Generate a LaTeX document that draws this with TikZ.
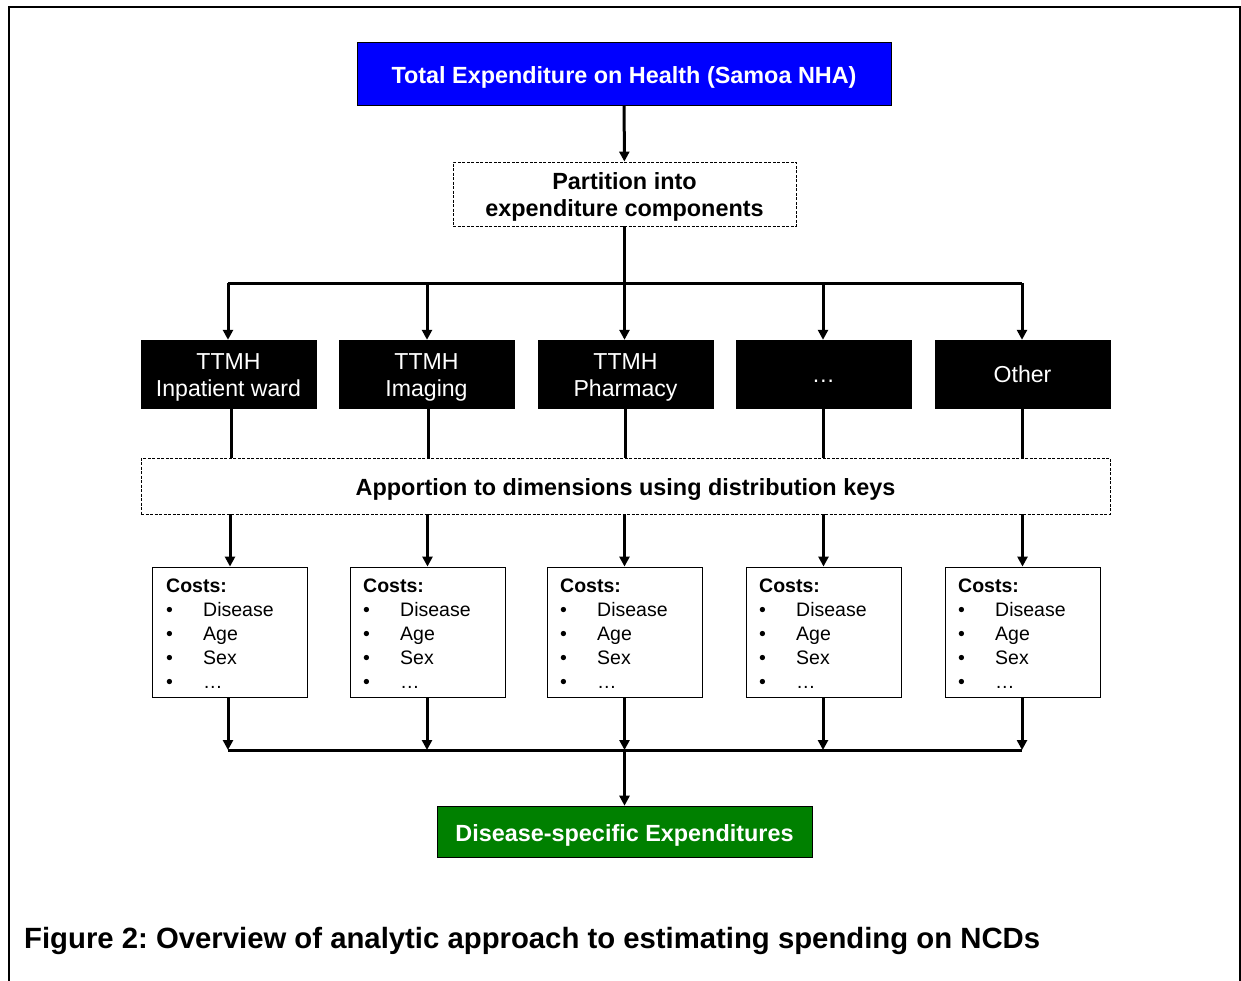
\documentclass[tikz,border=0pt]{standalone}
\usepackage{fontspec}
\setmainfont{Liberation Sans}
\usetikzlibrary{arrows.meta}
\definecolor{nhablue}{RGB}{0,0,255}
\definecolor{nhagreen}{RGB}{0,128,0}
\tikzset{
  conn/.style={line width=3pt, draw=black},
  arr/.style={conn, -{Triangle[length=10pt,width=10pt]}},
  boldtxt/.style={font=\bfseries\fontsize{23.4}{27}\selectfont},
  dashbox/.style={draw=black, line width=0.9pt, dash pattern=on 3pt off 1.5pt, fill=white, inner sep=0pt, align=center, boldtxt},
  blackbox/.style={fill=black, draw=black, text=white, inner sep=0pt, minimum width=175pt, minimum height=68pt, align=center, font=\fontsize{23.1}{27}\selectfont},
  costbox/.style={draw=black, line width=0.9pt, fill=white, inner sep=0pt, minimum width=155pt, minimum height=130pt},
  costtext/.style={anchor=base west, inner sep=0pt, font=\fontsize{19.5}{24}\selectfont},
}
\newcommand{\lowr}[1]{\raisebox{-3.5pt}[\height][\depth]{#1}}
\newcommand{\twol}[2]{\lowr{\begin{tabular}{@{}c@{}}#1\\#2\end{tabular}}}
\newcommand{\costlist}{\begin{tabular}[t]{@{}p{37pt}@{}l@{}}\multicolumn{2}{@{}l@{}}{\bfseries Costs:}\\ •&Disease\\ •&Age\\ •&Sex\\ •&…\end{tabular}}
\begin{document}
\frenchspacing
\begin{tikzpicture}[x=1pt,y=-1pt]
\useasboundingbox (0,0) rectangle (1241,980);
\fill[white] (0,0) rectangle (1241,980);
% frame
\draw[line width=2.2pt] (9,990) -- (9,7) -- (1240,7) -- (1240,990);
% top
\node[fill=nhablue, draw=black, line width=0.6pt, inner sep=0pt, minimum width=534pt, minimum height=63pt, text=white, boldtxt] (total) at (624,73.5) {\lowr{Total Expenditure on Health (Samoa NHA)}};
\node[dashbox, minimum width=343pt, minimum height=64pt] (part) at (624.5,194) {\twol{Partition into}{expenditure components}};
% black boxes
\node[blackbox] (b1) at (228.5,374) {\twol{TTMH}{Inpatient ward}};
\node[blackbox] (b2) at (426.5,374) {\twol{TTMH}{Imaging}};
\node[blackbox] (b3) at (625.5,374) {\twol{TTMH}{Pharmacy}};
\node[blackbox] (b4) at (823.5,374) {\lowr{\strut …}};
\node[blackbox] (b5) at (1022.5,374) {\lowr{\strut Other}};
% apportion
\node[dashbox, minimum width=969pt, minimum height=56pt] (app) at (625.5,486) {\lowr{Apportion to dimensions using distribution keys}};
% cost boxes
\node[costbox] (c1) at (230,632) {};
\node[costbox] (c2) at (427.5,632) {};
\node[costbox] (c3) at (624.5,632) {};
\node[costbox] (c4) at (823.5,632) {};
\node[costbox] (c5) at (1022.5,632) {};
\node[costtext] (t1) at (166,592) {\costlist};
\node[costtext] (t2) at (363,592) {\costlist};
\node[costtext] (t3) at (560,592) {\costlist};
\node[costtext] (t4) at (759,592) {\costlist};
\node[costtext] (t5) at (958,592) {\costlist};
% green
\node[fill=nhagreen, draw=black, line width=0.6pt, inner sep=0pt, minimum width=375pt, minimum height=51pt, text=white, boldtxt] (green) at (624.5,831.5) {\lowr{Disease-specific Expenditures}};
% caption
\node[anchor=base west, inner sep=0pt, font=\bfseries\fontsize{29.3}{33}\selectfont] (cap) at (24,948) {Figure 2: Overview of analytic approach to estimating spending on NCDs};
% connectors top
\draw[arr] (total) -- (part);
\coordinate (bus) at (624.5,283);
\coordinate (k1) at (228,283);
\coordinate (k2) at (427,283);
\coordinate (k3) at (624.5,283);
\coordinate (k4) at (823,283);
\coordinate (k5) at (1022,283);
\draw[conn] (part.south) -- (bus);
\draw[conn] (k1) -- (k5);
\draw[arr] (k1) -- (k1 |- b1.north);
\draw[arr] (k2) -- (k2 |- b2.north);
\draw[arr] (k3) -- (k3 |- b3.north);
\draw[arr] (k4) -- (k4 |- b4.north);
\draw[arr] (k5) -- (k5 |- b5.north);
% black to apportion
\coordinate (d1) at (231,408);
\coordinate (d2) at (428,408);
\coordinate (d3) at (625,408);
\coordinate (d4) at (823,408);
\coordinate (d5) at (1022,408);
\draw[conn] (d1) -- (d1 |- app.north);
\draw[conn] (d2) -- (d2 |- app.north);
\draw[conn] (d3) -- (d3 |- app.north);
\draw[conn] (d4) -- (d4 |- app.north);
\draw[conn] (d5) -- (d5 |- app.north);
% apportion to costs
\draw[arr] (c1 |- app.south) -- (c1.north);
\draw[arr] (c2 |- app.south) -- (c2.north);
\draw[arr] (c3 |- app.south) -- (c3.north);
\draw[arr] (c4 |- app.south) -- (c4.north);
\draw[arr] (c5 |- app.south) -- (c5.north);
% costs to bottom bus
\coordinate (m1) at (228,750);
\coordinate (m2) at (427,750);
\coordinate (m3) at (624.5,750);
\coordinate (m4) at (823,750);
\coordinate (m5) at (1022,750);
\draw[conn] (m1) -- (m5);
\draw[arr] (m1 |- c1.south) -- (m1);
\draw[arr] (m2 |- c2.south) -- (m2);
\draw[arr] (m3 |- c3.south) -- (m3);
\draw[arr] (m4 |- c4.south) -- (m4);
\draw[arr] (m5 |- c5.south) -- (m5);
\draw[arr] (m3) -- (green);
\end{tikzpicture}
\end{document}
